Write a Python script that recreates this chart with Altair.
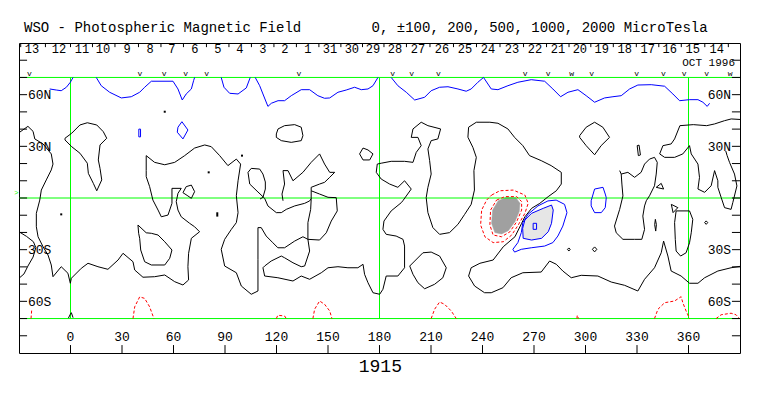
import altair as alt
import pandas as pd

# ------------------------------------------------------------------
# Contour polylines: (Carrington longitude, latitude)
# ------------------------------------------------------------------
neutral_main = [(-29.6,38.2),(-24.8,41.6),(-21.8,38.7),(-20.8,34.3),(-16.0,31.4),(-11.2,25.6),(-10.2,19.7),(-11.2,16.3),(-14.1,10.5),(-17.0,4.6),(-17.9,-1.2),(-19.9,-8.9),(-19.9,-16.7),(-18.9,-22.5),(-16.0,-28.3),(-13.1,-33.1),(-11.2,-38.9),(-10.2,-45.7),(-5.4,-39.9),(-1.5,-43.7),(-0.1,-49.5),(0.5,-46.6),(6.3,-40.8),(10.2,-37.9),(16.0,-39.9),(21.8,-41.4),(27.7,-36.0),(30.6,-32.1),(36.4,-37.0),(37.4,-41.8),(42.2,-46.0),(49.0,-45.7),(54.9,-44.7),(60.7,-48.6),(65.5,-50.5),(68.8,-47.6),(68.4,-39.9),(68.8,-32.1),(70.4,-23.4),(75.2,-19.6),(72.3,-16.7),(69.4,-14.7),(64.5,-10.9),(62.6,-7.0),(61.6,-2.1),(62.6,2.7),(64.5,5.6),(59.1,5.6),(59.1,-3.1),(56.8,-9.9),(52.9,-10.9),(51.0,-7.0),(48.0,-1.2),(46.1,6.6),(44.1,12.4),(44.1,15.9),(44.1,24.6),(49.0,20.7),(54.9,19.3),(60.7,20.7),(66.5,24.6),(72.3,29.0),(78.2,30.8),(82.0,29.8),(86.9,24.6),(91.7,18.8),(96.6,22.6),(99.1,19.7),(97.6,10.0),(96.6,1.3),(97.6,-8.5),(96.6,-14.3),(93.7,-18.2),(89.8,-24.0),(87.8,-29.8),(89.8,-39.5),(96.6,-43.4),(99.5,-51.1),(105.3,-55.9),(109.2,-54.0),(109.2,-35.6),(109.2,-17.2),(111.1,-17.2),(114.0,-22.1),(117.9,-26.0),(120.8,-28.9),(124.7,-28.9),(130.6,-25.0),(135.4,-22.5),(138.3,-24.0),(139.3,-30.8),(136.4,-39.5),(134.4,-39.9),(129.6,-37.6),(124.7,-34.7),(122.8,-33.7),(116.9,-36.6),(113.1,-39.5),(112.1,-40.5),(113.1,-45.3),(120.8,-46.3),(129.6,-48.2),(134.4,-45.3),(139.3,-47.2),(146.1,-43.4),(150.0,-40.5),(155.8,-39.9),(161.6,-40.5),(167.4,-40.5),(170.4,-38.5),(171.3,-44.3),(173.3,-49.2),(176.2,-55.0),(180.1,-55.9),(182.0,-53.0),(183.9,-45.3),(190.7,-45.3),(194.6,-40.5),(194.6,-27.9),(193.7,-24.0),(189.7,-22.1),(183.9,-21.1),(182.0,-18.2),(182.6,-13.4),(186.8,-7.5),(192.7,-2.7),(193.6,-1.6),(198.5,5.2),(194.6,10.0),(190.7,6.2),(185.9,8.1),(181.0,11.0),(178.1,14.9),(178.7,19.7),(181.0,20.2),(186.8,21.3),(194.6,21.3),(199.5,20.7),(201.4,26.5),(204.3,30.4),(202.4,35.2),(198.5,35.2),(199.5,40.1),(204.3,44.0),(208.2,42.0),(215.6,40.1),(214.0,34.3),(210.1,33.3),(208.2,28.5),(209.2,21.7),(210.1,13.9),(208.2,6.2),(207.2,0.2),(208.2,-8.5),(211.1,-17.2),(215.0,-21.1),(220.8,-20.1),(225.7,-15.3),(229.6,-9.5),(233.4,-3.7),(235.3,4.6),(235.0,15.9),(236.4,23.6),(234.4,29.4),(231.5,35.3),(231.9,41.1),(236.4,44.0),(244.3,44.0),(249.0,43.4),(254.8,40.1),(258.7,35.2),(263.5,30.4),(267.4,24.6),(274.2,21.7),(280.0,18.8),(285.9,14.9),(285.9,8.1),(283.0,4.2),(278.3,0.8),(273.4,-3.1),(268.6,-6.0),(264.7,-10.9),(262.8,-14.7),(258.9,-22.5),(252.1,-28.3),(246.2,-36.0),(238.5,-37.9),(233.4,-40.5),(231.9,-45.3),(235.4,-51.1),(241.2,-55.0),(245.1,-55.0),(251.9,-52.1),(256.7,-46.3),(263.5,-43.4),(274.2,-43.0),(279.1,-36.6),(283.0,-38.5),(286.8,-42.4),(291.7,-46.3),(297.5,-44.9),(307.2,-45.3),(315.0,-48.8),(322.8,-50.7),(330.5,-54.0),(334.4,-47.2),(340.2,-40.5),(344.1,-31.8),(345.5,-25.0),(348.0,-33.7),(349.9,-42.4),(355.7,-45.3),(360.6,-49.5),(365.5,-49.5),(369.4,-46.3),(377.1,-42.4),(384.8,-40.5),(390.0,-39.7)]
neutral_left_u = [(-30.0,-19.6),(-25.6,-22.3),(-21.6,-25.4),(-20.2,-28.8),(-21.8,-34.3),(-24.8,-39.5),(-27.1,-44.1),(-30.0,-46.6)]
loop_west = [(-3.2,34.7),(0.7,37.6),(5.5,42.4),(9.8,43.7),(15.3,42.4),(19.1,38.5),(21.1,34.7),(17.2,30.8),(16.2,22.1),(17.2,17.2),(18.2,10.5),(15.3,4.2),(13.3,8.5),(10.4,14.3),(9.8,20.2),(5.5,26.0),(0.7,29.8),(-3.2,33.7),(-3.2,34.7)]
loop_hook = [(65.5,3.1),(67.4,6.6),(70.4,7.5),(72.3,3.7),(70.4,-0.2),(68.4,1.2),(65.5,3.1)]
loop_south_50 = [(39.3,-15.7),(44.1,-20.2),(47.1,-20.5),(51.0,-21.5),(54.9,-25.4),(59.1,-30.2),(57.8,-35.0),(54.9,-38.9),(47.1,-38.9),(43.2,-37.0),(40.9,-30.2),(40.3,-23.4),(39.7,-20.5),(39.3,-15.7)]
arch_110 = [(103.4,14.9),(105.3,17.2),(110.2,16.8),(112.1,13.9),(113.5,9.3),(113.5,5.2),(112.1,0.4),(110.4,-0.6)]
wave_120 = [(103.4,14.9),(104.4,8.1),(109.2,3.5),(113.1,-0.2),(115.0,-4.6),(119.9,-8.5),(122.8,-8.5),(125.7,-6.6),(130.6,-4.6),(136.4,-3.1),(139.3,-1.7),(140.2,-0.4)]
peak_145 = [(123.8,15.9),(126.7,15.9),(129.6,10.0),(135.4,14.9),(140.2,20.7),(145.1,25.6),(148.0,19.7),(151.0,14.9),(153.9,14.9),(151.0,12.0),(148.0,9.1),(145.1,8.1),(140.2,6.2),(140.2,4.2)]
loop_145 = [(140.2,4.2),(145.1,2.3),(150.0,0.4),(154.8,0.2),(155.4,-7.5),(151.9,-13.4),(149.0,-20.2),(145.1,-24.4),(138.3,-24.0),(138.3,-14.3),(139.9,-6.6),(140.2,-0.8),(140.2,4.2)]
tail_124 = [(123.8,15.9),(124.7,8.1),(123.2,2.3),(123.8,-1.6)]
loop_128 = [(119.9,37.2),(120.9,40.1),(124.7,42.0),(130.6,42.6),(134.4,41.1),(135.4,36.2),(134.4,33.3),(128.6,32.3),(122.8,33.3),(119.9,35.2),(119.9,37.2)]
loop_172 = [(168.4,25.6),(170.4,29.0),(173.3,27.9),(176.2,25.6),(174.3,22.1),(170.4,22.1),(168.4,25.6)]
loop_208 = [(197.6,-39.5),(200.5,-36.6),(205.3,-31.8),(210.1,-31.4),(215.0,-33.7),(218.9,-40.5),(216.9,-46.3),(212.1,-50.1),(206.3,-52.7),(202.4,-49.2),(199.5,-44.3),(197.6,-39.5)]
diamond_305 = [(296.6,36.2),(300.4,41.1),(305.3,44.0),(310.1,41.1),(314.0,35.2),(309.1,30.4),(305.3,25.1),(300.4,30.4),(296.6,35.2),(296.6,36.2)]
thin_331 = [(330.1,30.4),(331.2,30.7),(332.0,25.0),(330.8,24.6),(330.1,30.4)]
loop_330 = [(319.9,15.9),(320.8,13.9),(324.7,14.9),(328.6,12.0),(332.4,14.9),(334.4,19.7),(337.3,22.6),(340.2,23.6),(341.8,20.7),(341.2,13.9),(340.2,7.1),(337.3,1.3),(335.4,-1.6),(334.4,-4.6),(333.4,-10.5),(334.4,-18.2),(332.8,-24.0),(328.6,-24.0),(321.8,-24.0),(317.9,-20.2),(316.9,-16.3),(319.9,-6.6),(321.8,1.2),(321.2,8.1),(320.8,13.9)]
east_north = [(390.0,45.6),(384.9,45.9),(381.0,44.9),(375.2,43.0),(370.6,42.0),(362.8,42.6),(355.0,42.0),(351.9,34.3),(349.9,31.4),(345.1,30.4),(343.2,25.6),(346.1,23.6),(351.9,23.6),(356.7,25.6),(360.6,30.4),(361.6,25.6),(365.5,19.7),(366.4,12.0),(365.5,5.2),(369.4,3.3),(373.2,7.1),(375.2,15.9),(377.1,10.0),(377.1,6.2),(379.0,0.4),(381.0,-5.6),(384.8,-6.6),(385.8,-2.7),(388.2,7.0),(386.8,13.9),(383.9,20.7),(382.5,24.6),(381.7,27.3)]
tri_352 = [(350.0,-3.7),(353.8,-5.6),(351.0,-8.5),(350.0,-3.7)]
loop_356 = [(352.8,-7.5),(360.6,-7.5),(362.5,-12.4),(361.6,-20.2),(360.6,-26.0),(358.6,-31.8),(355.4,-33.7),(352.8,-30.8),(352.3,-24.0),(351.9,-14.3),(352.8,-7.5)]
tiny_341 = [(340.7,-12.4),(341.3,-15.5),(340.9,-19.2),(340.3,-15.5),(340.7,-12.4)]
tiny_370 = [(370.3,-13.3),(371.2,-14.3),(370.3,-15.3),(369.4,-14.3),(370.3,-13.3)]
tiny_290 = [(290.3,-29.0),(291.1,-29.8),(290.3,-30.8),(289.5,-29.8),(290.3,-29.0)]
tiny_305 = [(305.3,-28.4),(306.6,-29.8),(305.3,-31.3),(304.0,-29.8),(305.3,-28.4)]
tri_344 = [(341.2,6.2),(344.1,8.5),(345.5,5.2),(341.2,6.2)]
caret_0 = [(-1.2,-69.7),(-0.1,-67.5),(0.5,-66.6),(1.5,-69.5)]
bar_85 = [(85.5,-8.3),(85.5,-10.8)]
black_dots_lon = [54.9, 99.9, 80.5, -5.4]
black_dots_lat = [50.1, 24.6, 14.9, -9.5]

blue_polar_1 = [(-12.1,63.3),(-8.3,62.7),(-5.4,62.3),(-2.4,64.3),(-0.1,67.2),(1.5,70.0)]
blue_polar_2 = [(15.0,70.0),(17.9,65.2),(22.8,61.4),(29.6,58.1),(35.4,58.8),(40.3,61.4),(43.2,64.3),(47.1,67.8),(59.7,67.8),(62.6,63.3),(65.1,56.9),(67.4,60.4),(70.4,63.3),(71.7,68.1),(72.3,70.0)]
blue_polar_3 = [(87.8,70.0),(89.4,64.3),(92.7,60.8),(97.6,60.4),(102.4,63.9),(104.7,70.0)]
blue_polar_4 = [(107.6,70.0),(110.2,65.2),(112.1,60.4),(115.0,53.2),(117.0,55.0),(120.9,56.5),(124.7,56.5),(128.6,59.4),(134.4,62.9),(139.3,62.9),(144.1,59.4),(148.0,57.9),(151.0,58.1),(155.8,61.4),(160.6,62.7),(165.5,64.3),(169.4,62.9),(173.3,63.3),(176.2,65.2),(179.1,70.0)]
blue_polar_5 = [(186.8,70.0),(190.7,65.2),(195.6,61.4),(200.5,56.9),(206.3,58.5),(210.1,62.3),(215.0,64.3),(219.9,64.6),(225.7,63.3),(230.5,62.0),(233.4,63.3),(237.3,67.2),(240.6,70.0),(245.1,63.3),(249.0,62.9),(254.8,65.2),(260.6,67.2),(268.4,68.7),(276.2,67.8),(281.0,63.3),(285.5,58.8),(289.8,61.4),(295.6,62.9),(300.4,59.4),(305.3,55.6),(311.1,58.1),(316.0,58.8),(320.8,59.4),(325.7,63.3),(330.5,65.6),(338.3,65.8),(346.1,64.9),(350.9,60.4),(354.8,56.5),(360.6,57.1),(365.5,57.1),(368.4,55.6),(370.9,53.2),(372.3,55.0)]
blue_sliver_40 = [(39.8,40.0),(40.8,40.0),(40.8,35.5),(39.8,35.5),(39.8,40.0)]
blue_diamond_65 = [(64.9,44.3),(68.4,39.5),(65.5,34.3),(62.2,38.2),(62.6,41.1),(64.9,44.3)]
blue_loop_308 = [(303.3,-1.6),(305.3,5.2),(310.2,6.2),(311.5,2.3),(312.1,0.2),(311.5,-5.6),(309.2,-8.5),(305.3,-8.5),(303.3,-4.6),(303.3,-1.6)]
blue_spot_100 = [(257.7,-29.8),(260.6,-25.9),(262.6,-20.1),(263.5,-14.3),(266.5,-9.5),(272.3,-4.6),(278.1,-1.7),(282.9,-1.2),(287.8,-3.7),(289.2,-8.5),(286.8,-16.3),(283.9,-22.1),(281.0,-25.9),(276.2,-27.9),(268.4,-28.9),(262.6,-29.8),(258.7,-31.4),(257.7,-29.8)]
blue_spot_200 = [(263.7,-23.4),(263.4,-17.6),(264.7,-12.8),(268.6,-8.9),(275.4,-6.0),(280.2,-4.1),(281.2,-7.0),(280.2,-14.7),(278.3,-19.6),(274.4,-23.4),(268.6,-24.4),(263.7,-23.4)]
blue_spot_500 = [(269.5,-14.7),(271.5,-14.7),(271.5,-18.2),(269.5,-18.2),(269.5,-14.7)]

red_spot_100 = [(245.3,1.7),(250.1,4.2),(257.9,4.6),(264.7,1.7),(266.6,-3.1),(264.7,-8.9),(260.8,-15.7),(257.0,-21.5),(252.1,-25.4),(246.2,-25.9),(241.4,-22.5),(238.9,-15.7),(239.5,-7.0),(242.4,-1.2),(245.3,1.7)]
red_spot_200 = [(248.2,-1.2),(253.1,0.8),(259.9,0.8),(262.8,-2.1),(262.8,-7.0),(259.9,-13.8),(256.0,-19.6),(251.1,-22.5),(246.2,-21.5),(244.3,-15.7),(244.7,-7.0),(248.2,-1.2)]
red_spot_core = [(249.2,-1.6),(254.0,0.4),(259.5,0.2),(261.8,-3.1),(261.4,-7.9),(258.9,-13.8),(255.0,-19.0),(251.1,-20.9),(247.2,-20.1),(245.3,-14.7),(245.9,-7.0),(249.2,-1.6)]
red_polar_1 = [(-23.0,-70.0),(-22.6,-65.0)]
red_polar_2 = [(36.4,-70.0),(37.4,-63.2),(40.3,-57.4),(43.2,-58.3),(46.1,-63.2),(48.6,-70.0)]
red_polar_3 = [(119.9,-70.0),(120.8,-68.1),(124.7,-68.5),(125.7,-70.0)]
red_polar_4 = [(141.2,-70.0),(142.2,-64.6),(145.1,-59.8),(148.0,-61.7),(151.0,-65.6),(152.3,-70.0)]
red_polar_5 = [(210.1,-70.0),(212.1,-64.6),(215.0,-60.4),(217.9,-61.7),(221.8,-65.6),(224.7,-70.0)]
red_polar_6 = [(295.0,-70.0),(295.2,-68.2),(296.0,-70.0)]
red_polar_7 = [(340.2,-70.0),(342.2,-64.6),(346.1,-60.8),(351.9,-59.8),(355.7,-57.3),(356.7,-60.8),(358.6,-65.6),(360.6,-70.0)]
red_polar_8 = [(376.1,-70.0),(379.0,-67.8),(384.8,-66.9),(387.7,-67.8),(389.7,-70.0)]

# ------------------------------------------------------------------
# Axis / annotation values
# ------------------------------------------------------------------
green_lat = [70, 0, -70]
green_lon = [0, 180, 360]
lon_ticks = [0, 30, 60, 90, 120, 150, 180, 210, 240, 270, 300, 330, 360]
lat_ticks = [-80, -70, -60, -50, -40, -30, -20, -10, 0, 10, 20, 30, 40, 50, 60, 70, 80]
lat_label_vals = [60, 30, -30, -60]
lat_label_txt = ["60N", "30N", "30S", "60S"]
day_labels = ["13","12","11","10","9","8","7","6","5","4","3","2","1","31","30","29",
              "28","27","26","25","24","23","22","21","20","19","18","17","16","15","14"]
day_lon = [-22.4,-6.7,6.7,18.9,32.9,46.3,59.1,72.5,85.9,98.7,112.1,124.9,138.3,151.1,163.9,176.2,
           189.0,202.4,216.4,229.8,243.2,257.2,270.6,284.0,296.7,309.5,322.9,336.3,349.1,362.5,376.5]
day_tick_lon = [-29.0,-14.6,0.0,12.8,25.9,39.6,52.7,65.8,79.2,92.3,105.4,118.5,131.6,144.7,157.5,170.1,
                182.6,195.7,209.4,223.1,236.5,250.2,263.9,277.3,290.4,303.1,316.2,329.6,342.7,355.8,369.5,383.2]
obs_lon = [-24.0,40.5,54.6,67.1,79.3,133.1,187.7,198.8,214.3,264.8,278.3,292.0,303.6,329.8,345.4,357.4,370.6,384.2]
obs_mark = ["v","v","v","v","v","v","v","v","v","v","v","w","v","v","v","v","v","w"]
rotation = "1915"

MONO = "Liberation Mono"
XS = alt.Scale(domain=[-30, 390], nice=False, zero=False)
YS = alt.Scale(domain=[-90, 90], nice=False, zero=False)


def X(f):
    return alt.X(f, type="quantitative", scale=XS, axis=None)


def Y(f):
    return alt.Y(f, type="quantitative", scale=YS, axis=None)


def lines_df(groups, prefix):
    rows = []
    for g, pts in enumerate(groups):
        for i, (lo, la) in enumerate(pts):
            rows.append({"id": f"{prefix}{g}", "o": i, "lon": lo, "lat": la})
    return pd.DataFrame(rows)


def line_layer(groups, prefix, color, dash=None, width=1.0):
    kw = dict(color=color, strokeWidth=width, interpolate="linear")
    if dash:
        kw["strokeDash"] = dash
    return alt.Chart(lines_df(groups, prefix)).mark_line(**kw).encode(
        x=X("lon"), y=Y("lat"), detail="id:N", order="o:Q")


def fill_layer(pts, prefix, color):
    return alt.Chart(lines_df([pts], prefix)).mark_line(
        fill=color, stroke=color, strokeWidth=0.5, interpolate="linear").encode(
        x=X("lon"), y=Y("lat"), detail="id:N", order="o:Q")


black_groups = [neutral_main, neutral_left_u, loop_west, loop_hook, loop_south_50, arch_110, wave_120,
                peak_145, loop_145, tail_124, loop_128, loop_172, loop_208, diamond_305, thin_331,
                loop_330, east_north, tri_352, loop_356, tiny_341, tiny_370, tiny_290, tiny_305,
                tri_344, caret_0]
blue_groups = [blue_polar_1, blue_polar_2, blue_polar_3, blue_polar_4, blue_polar_5, blue_sliver_40,
               blue_diamond_65, blue_loop_308, blue_spot_100, blue_spot_200, blue_spot_500]
red_groups = [red_spot_100, red_spot_200, red_polar_1, red_polar_2, red_polar_3, red_polar_4,
              red_polar_5, red_polar_6, red_polar_7, red_polar_8]

layers = []
layers.append(fill_layer(blue_spot_200, "f", "#e6e6e6"))
layers.append(fill_layer(red_spot_core, "g", "#a0a0a0"))

# green reference lines
gh = pd.DataFrame({"lat": green_lat, "lon0": -30, "lon1": 390})
gv = pd.DataFrame({"lon": green_lon, "lat0": -70, "lat1": 70})
layers.append(alt.Chart(gh).mark_rule(color="#00ff00", strokeWidth=1).encode(
    y=Y("lat"), x=X("lon0"), x2="lon1"))
layers.append(alt.Chart(gv).mark_rule(color="#00ff00", strokeWidth=1).encode(
    x=X("lon"), y=Y("lat0"), y2="lat1"))

layers.append(line_layer(black_groups, "k", "black"))
layers.append(line_layer([bar_85], "b", "black", width=2))
layers.append(line_layer(blue_groups, "u", "#0000ff"))
layers.append(line_layer(red_groups, "r", "#ff0000", dash=[3, 2]))
dots = pd.DataFrame({"lon": black_dots_lon, "lat": black_dots_lat})
layers.append(alt.Chart(dots).mark_square(color="black", size=4, opacity=1).encode(x=X("lon"), y=Y("lat")))

# frame ticks
bt = pd.DataFrame({"lon": lon_ticks, "lat0": -90, "lat1": -85.4})
layers.append(alt.Chart(bt).mark_rule(color="black").encode(x=X("lon"), y=Y("lat0"), y2="lat1"))
lt = pd.DataFrame({"lat": lat_ticks, "lon0": -30, "lon1": -25.3})
layers.append(alt.Chart(lt).mark_rule(color="black").encode(y=Y("lat"), x=X("lon0"), x2="lon1"))
rt = pd.DataFrame({"lat": lat_ticks, "lon0": 385.3, "lon1": 390})
layers.append(alt.Chart(rt).mark_rule(color="black").encode(y=Y("lat"), x=X("lon0"), x2="lon1"))
tt = pd.DataFrame({"lon": day_tick_lon, "lat0": 90, "lat1": 87.6})
layers.append(alt.Chart(tt).mark_rule(color="black").encode(x=X("lon"), y=Y("lat0"), y2="lat1"))

# texts
def text_layer(df, align, size, baseline="alphabetic", color="black", dy=0):
    return alt.Chart(df).mark_text(align=align, baseline=baseline, font=MONO, fontSize=size,
                                   color=color, dy=dy).encode(x=X("lon"), y=Y("lat"), text="t:N")

layers.append(text_layer(pd.DataFrame({"lon": [-27.1], "lat": [96.6],
                                       "t": ["WSO - Photospheric Magnetic Field"]}), "left", 14))
layers.append(text_layer(pd.DataFrame({"lon": [175.4], "lat": [96.6],
                                       "t": ["0, ±100, 200, 500, 1000, 2000 MicroTesla"]}), "left", 14))
layers.append(text_layer(pd.DataFrame({"lon": day_lon, "lat": 84.2, "t": day_labels}), "center", 12))
layers.append(text_layer(pd.DataFrame({"lon": [387.1], "lat": [76.6], "t": ["OCT 1996"]}), "right", 11))
layers.append(text_layer(pd.DataFrame({"lon": obs_lon, "lat": 70.6, "t": obs_mark}), "center", 8))
layers.append(text_layer(pd.DataFrame({"lon": -24.8, "lat": lat_label_vals, "t": lat_label_txt}),
                         "left", 13, dy=4.5))
layers.append(text_layer(pd.DataFrame({"lon": 384.8, "lat": lat_label_vals, "t": lat_label_txt}),
                         "right", 13, dy=4.5))
layers.append(text_layer(pd.DataFrame({"lon": lon_ticks, "lat": -83.3,
                                       "t": [str(v) for v in lon_ticks]}), "center", 13))
layers.append(text_layer(pd.DataFrame({"lon": [180.5], "lat": [-101.0], "t": [rotation]}), "center", 18))
layers.append(text_layer(pd.DataFrame({"lon": [-31.6], "lat": [1.5], "t": [">"]}), "center", 7,
                         color="#00ff00"))

chart = alt.layer(*layers).properties(
    width=721, height=310,
    padding={"left": 11, "top": 35, "right": 14, "bottom": 30},
    autosize=alt.AutoSizeParams(type="none"),
    background="white",
).configure_view(stroke="black", strokeWidth=1)

chart.save("out.html", embed_options={"renderer": "svg", "actions": False})
